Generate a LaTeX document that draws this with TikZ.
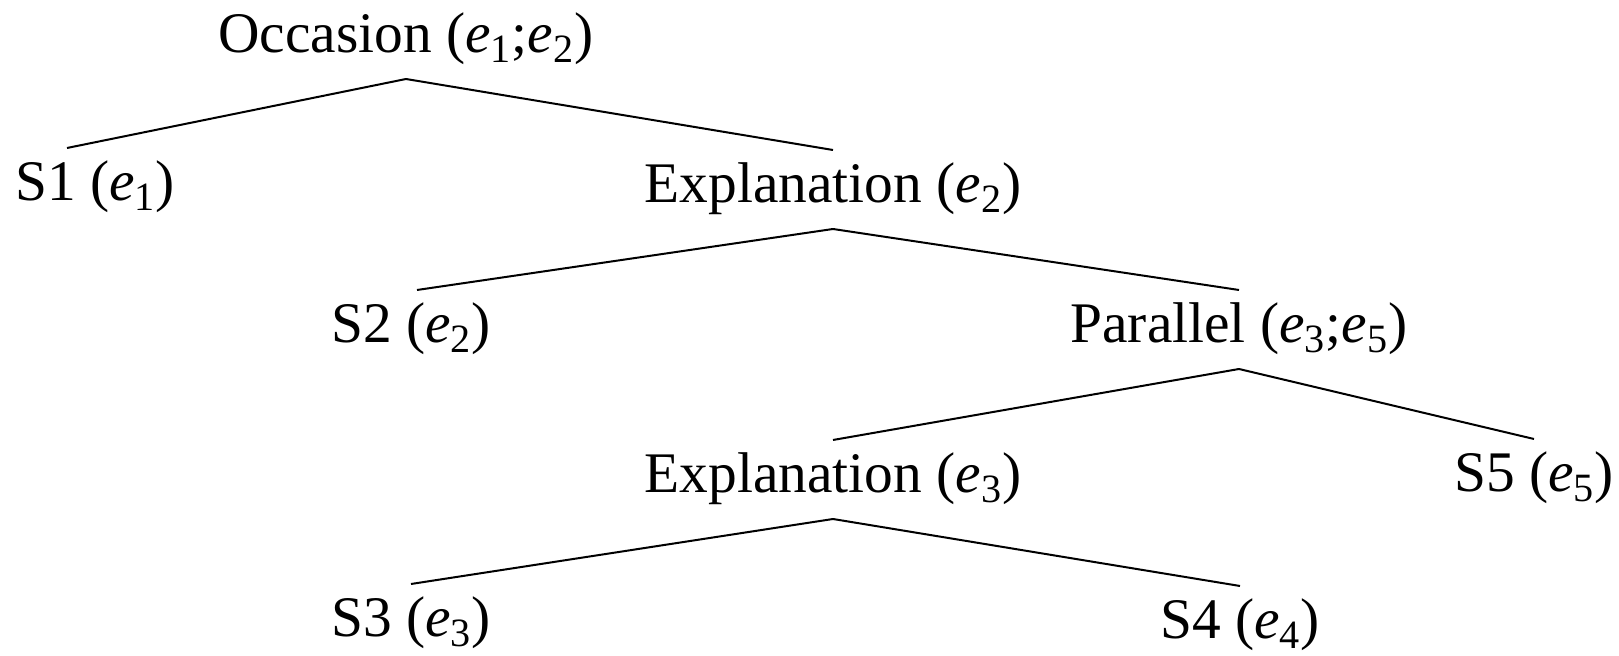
\documentclass[tikz,border=0pt]{standalone}
\usepackage{fontspec}
\setmainfont{Liberation Serif}
\usetikzlibrary{positioning}
\tikzset{every picture/.style={line width=1pt}}
\newcommand{\ev}[1]{\textit{e}\textsubscript{#1}}

\begin{document}
\begin{tikzpicture}[x=0.5pt, y=-0.5pt,
    lbl/.style={anchor=base, inner sep=0pt, font=\fontsize{28.7}{32}\selectfont}]
    \useasboundingbox (0,0) rectangle (1619,656);

    % 根节点
    \node[lbl] (occ) at (406,53) {Occasion (\ev{1};\ev{2})};

    % 第二层
    \node[lbl] (s1)  at (95,201)  {S1 (\ev{1})};
    \node[lbl] (exa) at (833,203) {Explanation (\ev{2})};

    % 第三层
    \node[lbl] (s2)  at (411,343)  {S2 (\ev{2})};
    \node[lbl] (par) at (1239,343) {Parallel (\ev{3};\ev{5})};

    % 第四层
    \node[lbl] (exb) at (833,493)  {Explanation (\ev{3})};
    \node[lbl] (s5)  at (1534,492) {S5 (\ev{5})};

    % 第五层
    \node[lbl] (s3) at (411,637)  {S3 (\ev{3})};
    \node[lbl] (s4) at (1240,639) {S4 (\ev{4})};

    % 连线
    \foreach \p/\c/\dx in {occ/s1/-14pt, occ/exa/0pt, exa/s2/3pt, exa/par/0pt,
                           par/exb/0pt, par/s5/0pt, exb/s3/0pt, exb/s4/0pt}
        \draw ([yshift=-13pt]\p.base) -- ([xshift=\dx, yshift=26.5pt]\c.base);
\end{tikzpicture}
\end{document}
